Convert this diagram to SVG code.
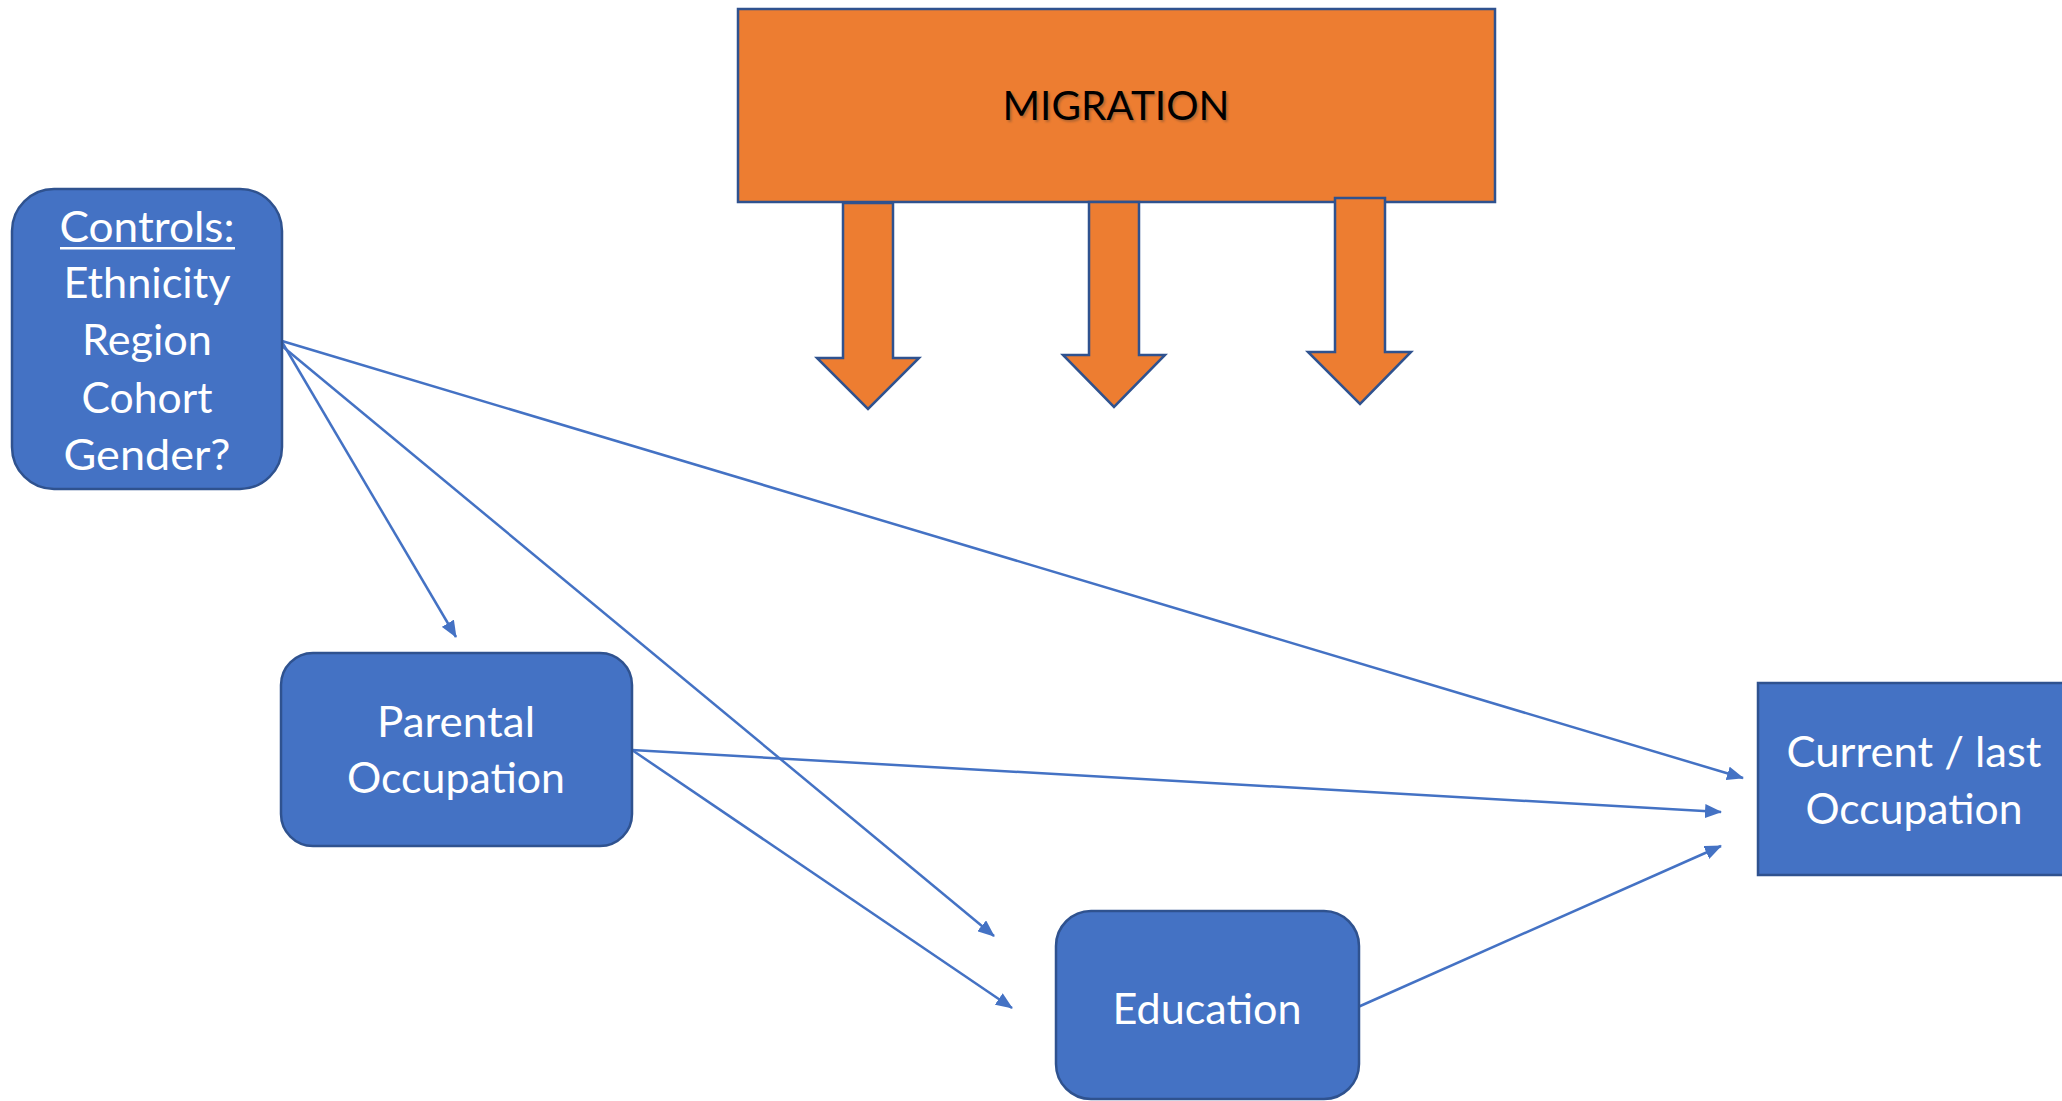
<svg xmlns="http://www.w3.org/2000/svg" width="2062" height="1101" viewBox="0 0 2062 1101">
  <style>
    .node { fill: #4472C4; stroke: #2F528F; stroke-width: 2.5; }
    .mig { fill: #ED7D31; stroke: #2F528F; stroke-width: 2.5; }
    .label { font-family: Lato, "Liberation Sans", sans-serif; font-size: 43px; fill: #FFFFFF; text-anchor: middle; }
    .title { font-family: Lato, "Liberation Sans", sans-serif; font-size: 40px; fill: #000000; text-anchor: middle; }
    .edge { stroke: #4472C4; stroke-width: 2.5; fill: none; marker-end: url(#head); }
  </style>
  <defs>
    <marker id="head" markerUnits="userSpaceOnUse" markerWidth="18" markerHeight="14" refX="16" refY="7" orient="auto">
      <path d="M0,0 L17,7 L0,14 Z" fill="#4472C4"/>
    </marker>
    <filter id="soft" x="-10%" y="-30%" width="120%" height="160%">
      <feGaussianBlur stdDeviation="1.2"/>
    </filter>
  </defs>

  <rect width="2062" height="1101" fill="#FFFFFF"/>

  <!-- migration block with its three downward arrows -->
  <g id="migration">
    <rect class="mig" x="738" y="9" width="757" height="193"/>
    <text class="title" x="1118" y="122" fill="#7a3a10" style="fill:#6b4a30;opacity:0.45" filter="url(#soft)" textLength="227" lengthAdjust="spacingAndGlyphs">MIGRATION</text>
    <text class="title" x="1116" y="120" textLength="227" lengthAdjust="spacingAndGlyphs">MIGRATION</text>
    <path class="mig" d="M843,203 L893,203 L893,358 L919,358 L868,409 L817,358 L843,358 Z"/>
    <path class="mig" d="M1089,202 L1139,202 L1139,355 L1165,355 L1114,407 L1063,355 L1089,355 Z"/>
    <path class="mig" d="M1335,198 L1385,198 L1385,352 L1411,352 L1360,404 L1308,352 L1335,352 Z"/>
  </g>

  <!-- connectors -->
  <g id="connectors">
    <line class="edge" x1="282" y1="342" x2="456" y2="637"/>
    <line class="edge" x1="282" y1="346" x2="994" y2="936"/>
    <line class="edge" x1="282" y1="341" x2="1743" y2="778"/>
    <line class="edge" x1="632" y1="750" x2="1721" y2="812"/>
    <line class="edge" x1="632" y1="750" x2="1012" y2="1008"/>
    <line class="edge" x1="1358" y1="1007" x2="1721" y2="846"/>
  </g>

  <g id="controls">
    <rect class="node" x="12" y="189" width="270" height="300" rx="42" ry="42"/>
    <text class="label" x="147" y="242" textLength="175" lengthAdjust="spacingAndGlyphs">Controls:</text>
    <rect x="60" y="247" width="175" height="2.5" fill="#FFFFFF"/>
    <text class="label" x="147" y="298" textLength="167" lengthAdjust="spacingAndGlyphs">Ethnicity</text>
    <text class="label" x="147" y="355" textLength="130" lengthAdjust="spacingAndGlyphs">Region</text>
    <text class="label" x="147" y="413" textLength="131" lengthAdjust="spacingAndGlyphs">Cohort</text>
    <text class="label" x="147" y="470" textLength="167" lengthAdjust="spacingAndGlyphs">Gender?</text>
  </g>

  <g id="parental-occupation">
    <rect class="node" x="281" y="653" width="351" height="193" rx="32" ry="32"/>
    <text class="label" x="456" y="737" textLength="158" lengthAdjust="spacingAndGlyphs">Parental</text>
    <text class="label" x="456" y="793" textLength="218" lengthAdjust="spacingAndGlyphs">Occupation</text>
  </g>

  <g id="education">
    <rect class="node" x="1056" y="911" width="303" height="188" rx="35" ry="35"/>
    <text class="label" x="1207" y="1024" textLength="189" lengthAdjust="spacingAndGlyphs">Education</text>
  </g>

  <g id="current-occupation">
    <rect class="node" x="1758" y="683" width="320" height="192"/>
    <text class="label" x="1914" y="767" textLength="255" lengthAdjust="spacingAndGlyphs">Current / last</text>
    <text class="label" x="1914" y="824" textLength="217" lengthAdjust="spacingAndGlyphs">Occupation</text>
  </g>
</svg>
